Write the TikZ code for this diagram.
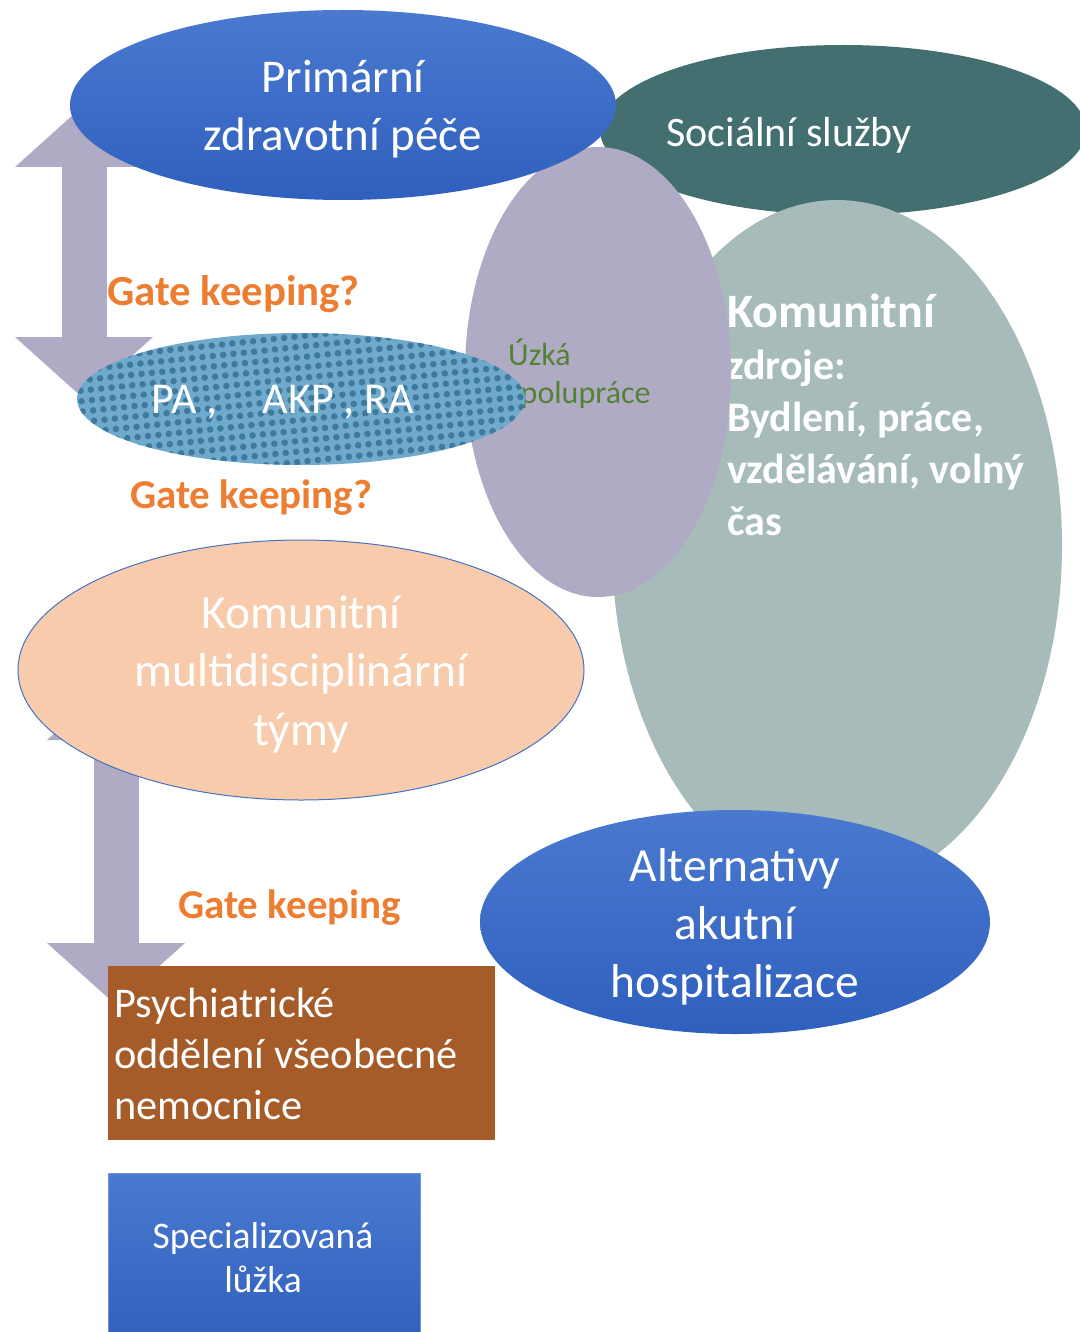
\documentclass[tikz,border=0pt]{standalone}
\usepackage{fontspec}
\setmainfont{Carlito}
\usetikzlibrary{shapes.geometric,arrows.meta}

\definecolor{careblue}{HTML}{4A79CF}
\definecolor{careblued}{HTML}{2F60BE}
\definecolor{socteal}{HTML}{436F71}
\definecolor{zdrojgrey}{HTML}{A6BBBA}
\definecolor{lavender}{HTML}{B0ABC4}
\definecolor{pablue}{HTML}{6FAACC}
\definecolor{padots}{HTML}{2E6B8E}
\definecolor{peach}{HTML}{F7CBAC}
\definecolor{peachline}{HTML}{4472C4}
\definecolor{gateorange}{HTML}{ED7D31}
\definecolor{coopgreen}{HTML}{548235}
\definecolor{wardbrown}{HTML}{A65C28}

\tikzset{
  blob/.style={ellipse, inner sep=0pt, draw=none},
  blueblob/.style={blob, top color=careblue, bottom color=careblued},
  whitetext/.style={text=white, align=center, inner sep=0pt},
  gatelabel/.style={text=gateorange, anchor=west, inner sep=0pt},
  gatearrow/.style={draw=lavender, line width=45pt,
    >={Triangle[width=138pt,length=62pt,line width=0pt]}, <->},
}

\begin{document}
\begin{tikzpicture}[x=1pt,y=-1pt]
      \useasboundingbox (0,0) rectangle (1079,1332);

      % back layer
      \node[blob, fill=socteal, minimum width=486pt, minimum height=170pt] (soc) at (843,130) {};
      \node[whitetext, font=\fontsize{42}{50}\selectfont] (soctext) at (789,135) {Sociální služby};
      \node[blob, fill=zdrojgrey, minimum width=450pt, minimum height=690pt] (zdroje) at (837,545) {};
      \node[whitetext, align=left, anchor=west, font=\bfseries\fontsize{42}{52}\selectfont] (zdrojetext) at (727,415)
            {{\fontsize{48}{52}\selectfont Komunitní}\\zdroje:\\Bydlení, práce,\\vzdělávání, volný\\čas};
      \node[blob, fill=lavender, minimum width=266pt, minimum height=450pt] (coop) at (598,372) {};
      \node[anchor=west, align=left, inner sep=0pt, text=coopgreen, font=\fontsize{32}{38}\selectfont] (cooptext) at (508,374)
            {Úzká\\spolupráce};

      % top arrow
      \coordinate (a1top) at (84,105);
      \coordinate (a1bot) at (84,399);
      \draw[gatearrow] (a1top) -- (a1bot);

      \node[blueblob, minimum width=546pt, minimum height=190pt] (prim) at (343,105) {};
      \node[whitetext, font=\fontsize{47}{58}\selectfont] (primtext) at (343,109) {Primární\\zdravotní péče};

      % PA ellipse with dots
      \node[blob, fill=pablue, minimum width=448pt, minimum height=132pt] (pa) at (301,399) {};
      \begin{scope}
        \clip (pa.center) ellipse [x radius=224, y radius=66];
        \begin{scope}[shift={(pa.center)}, rotate=6]
          \foreach \i in {-24,...,24}
            \foreach \j in {-9,...,9}
              \fill[padots, opacity=.75] (\i*10.4,\j*10.4) circle (3.3pt);
        \end{scope}
      \end{scope}
      \node[whitetext, font=\fontsize{44}{52}\selectfont] (patext) at (283,402) {PA ,\hspace{0.8em} AKP , RA};

      \node[gatelabel, font=\bfseries\fontsize{42.8}{50}\selectfont] (gate1) at (107,294) {Gate keeping?};
      \node[gatelabel, font=\bfseries\fontsize{41}{48}\selectfont] (gate2) at (130,498) {Gate keeping?};

      % lower arrow
      \coordinate (a2top) at (116,678);
      \coordinate (a2bot) at (116,1005);
      \draw[gatearrow] (a2top) -- (a2bot);

      \node[blob, fill=peach, draw=peachline, line width=1pt, minimum width=566pt, minimum height=260pt] (teams) at (301,670) {};
      \node[whitetext, font=\fontsize{47.5}{58.5}\selectfont] (teamstext) at (301,674) {Komunitní\\multidisciplinární\\týmy};

      \node[gatelabel, font=\bfseries\fontsize{41}{48}\selectfont] (gate3) at (178,908) {Gate keeping};

      \node[blueblob, minimum width=510pt, minimum height=224pt] (alt) at (735,922) {};
      \node[whitetext, font=\fontsize{47.5}{58}\selectfont] (alttext) at (735,927) {Alternativy\\akutní\\hospitalizace};

      % boxes
      \node[fill=wardbrown, minimum width=387pt, minimum height=174pt, inner sep=0pt] (ward) at (301.5,1053) {};
      \node[whitetext, align=left, anchor=west, font=\fontsize{42.3}{51}\selectfont] (wardtext) at (114,1054)
            {Psychiatrické\\oddělení všeobecné\\nemocnice};
      \node[top color=careblue, bottom color=careblued, draw=careblue!80!white, line width=1pt,
            minimum width=312pt, minimum height=172pt, inner sep=0pt] (beds) at (264,1259) {};
      \node[whitetext, font=\fontsize{37.5}{44}\selectfont] (bedstext) at (263,1258) {Specializovaná\\lůžka};
\end{tikzpicture}
\end{document}
